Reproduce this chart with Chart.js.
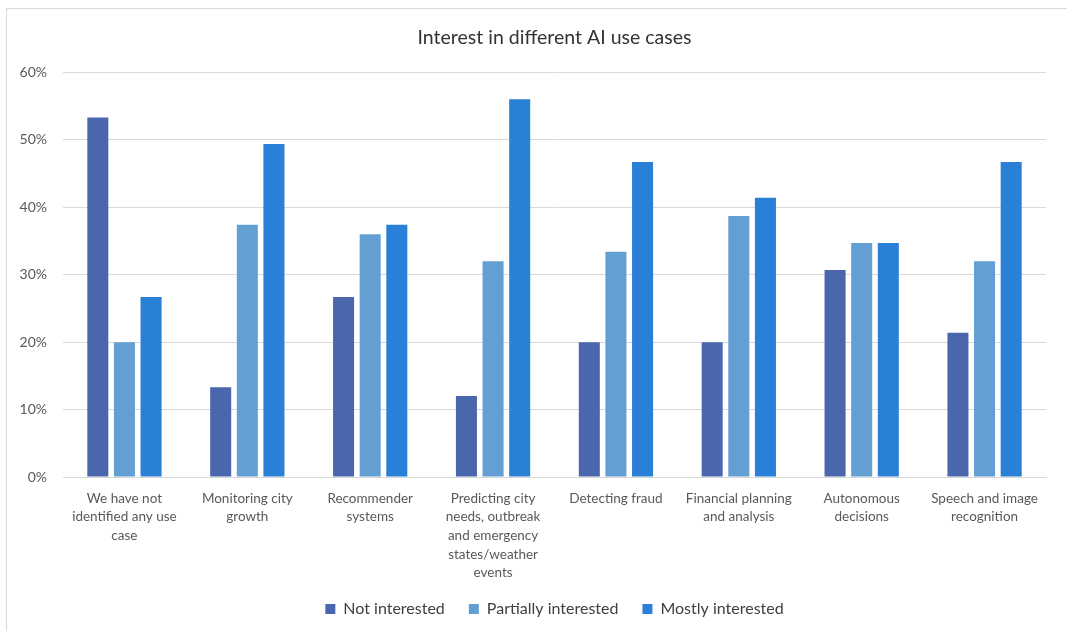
<!DOCTYPE html>
<html>
<head>
<meta charset="utf-8">
<script src="https://cdn.jsdelivr.net/npm/chart.js@4"></script>
<style>
  html, body { margin: 0; padding: 0; background: #fff; }
  #wrap { position: relative; width: 1067px; height: 631px; }
  #frame { position: absolute; left: 6px; top: 8px; right: 0; bottom: 0;
           border-top: 1px solid #d9d9d9; border-left: 1px solid #d9d9d9; pointer-events: none; }
  canvas { position: absolute; left: 0; top: 0; }
</style>
</head>
<body>
<div id="wrap">
  <canvas id="aiChart" width="1067" height="631"></canvas>
  <div id="frame"></div>
</div>
<script>
// 카테고리 (줄바꿈은 원본 그대로)
const categories = [
    ['We have not', 'identified any use', 'case'],
    ['Monitoring city', 'growth'],
    ['Recommender', 'systems'],
    ['Predicting city', 'needs, outbreak', 'and emergency', 'states/weather', 'events'],
    ['Detecting fraud'],
    ['Financial planning', 'and analysis'],
    ['Autonomous', 'decisions'],
    ['Speech and image', 'recognition']
];

// 시리즈 값 (%)
const notInterested = [53.3, 13.3, 26.7, 12.0, 20.0, 20.0, 30.7, 21.4];
const partiallyInterested = [20.0, 37.4, 36.0, 32.0, 33.4, 38.7, 34.7, 32.0];
const mostlyInterested = [26.7, 49.4, 37.4, 56.0, 46.7, 41.4, 34.7, 46.7];

const seriesNames = ['Not interested', 'Partially interested', 'Mostly interested'];
const colors = ['#4a67ae', '#639fd2', '#2a7fd7'];

const FONT = 'Lato, "Open Sans", sans-serif';

function makeDataset(label, data, color) {
    return {
        label,
        data,
        backgroundColor: color,
        borderColor: color,
        borderWidth: 0,
        barPercentage: 0.79,
        categoryPercentage: 0.65
    };
}

const ctx = document.getElementById('aiChart').getContext('2d');
new Chart(ctx, {
    type: 'bar',
    data: {
        labels: categories,
        datasets: [
            makeDataset(seriesNames[0], notInterested, colors[0]),
            makeDataset(seriesNames[1], partiallyInterested, colors[1]),
            makeDataset(seriesNames[2], mostlyInterested, colors[2])
        ]
    },
    options: {
        responsive: false,
        animation: false,
        layout: { padding: { left: 10, right: 21, top: 0, bottom: 4 } },
        scales: {
            y: {
                min: 0,
                max: 60,
                ticks: {
                    stepSize: 10,
                    padding: 16,
                    color: '#595959',
                    font: { family: FONT, size: 14 },
                    callback: v => v + '%'
                },
                grid: { color: '#d9d9d9', lineWidth: 1, drawTicks: false },
                border: { display: false },
                afterFit: s => { s.width = 53; }
            },
            x: {
                ticks: {
                    padding: 12,
                    color: '#595959',
                    maxRotation: 0,
                    autoSkip: false,
                    font: { family: FONT, size: 13.5, lineHeight: 1.38 }
                },
                grid: { display: false, drawTicks: false },
                border: { color: '#d9d9d9' },
                afterFit: s => { s.height = 100; }
            }
        },
        plugins: {
            title: {
                display: true,
                fullSize: false,
                text: 'Interest in different AI use cases',
                color: '#333333',
                font: { family: FONT, size: 19.5, weight: 'normal' },
                padding: { top: 26, bottom: 23 }
            },
            legend: {
                position: 'bottom',
                fullSize: false,
                labels: {
                    boxWidth: 10,
                    boxHeight: 10,
                    padding: 24,
                    color: '#404040',
                    font: { family: FONT, size: 16 }
                }
            },
            tooltip: { enabled: false }
        }
    }
});
</script>
</body>
</html>
